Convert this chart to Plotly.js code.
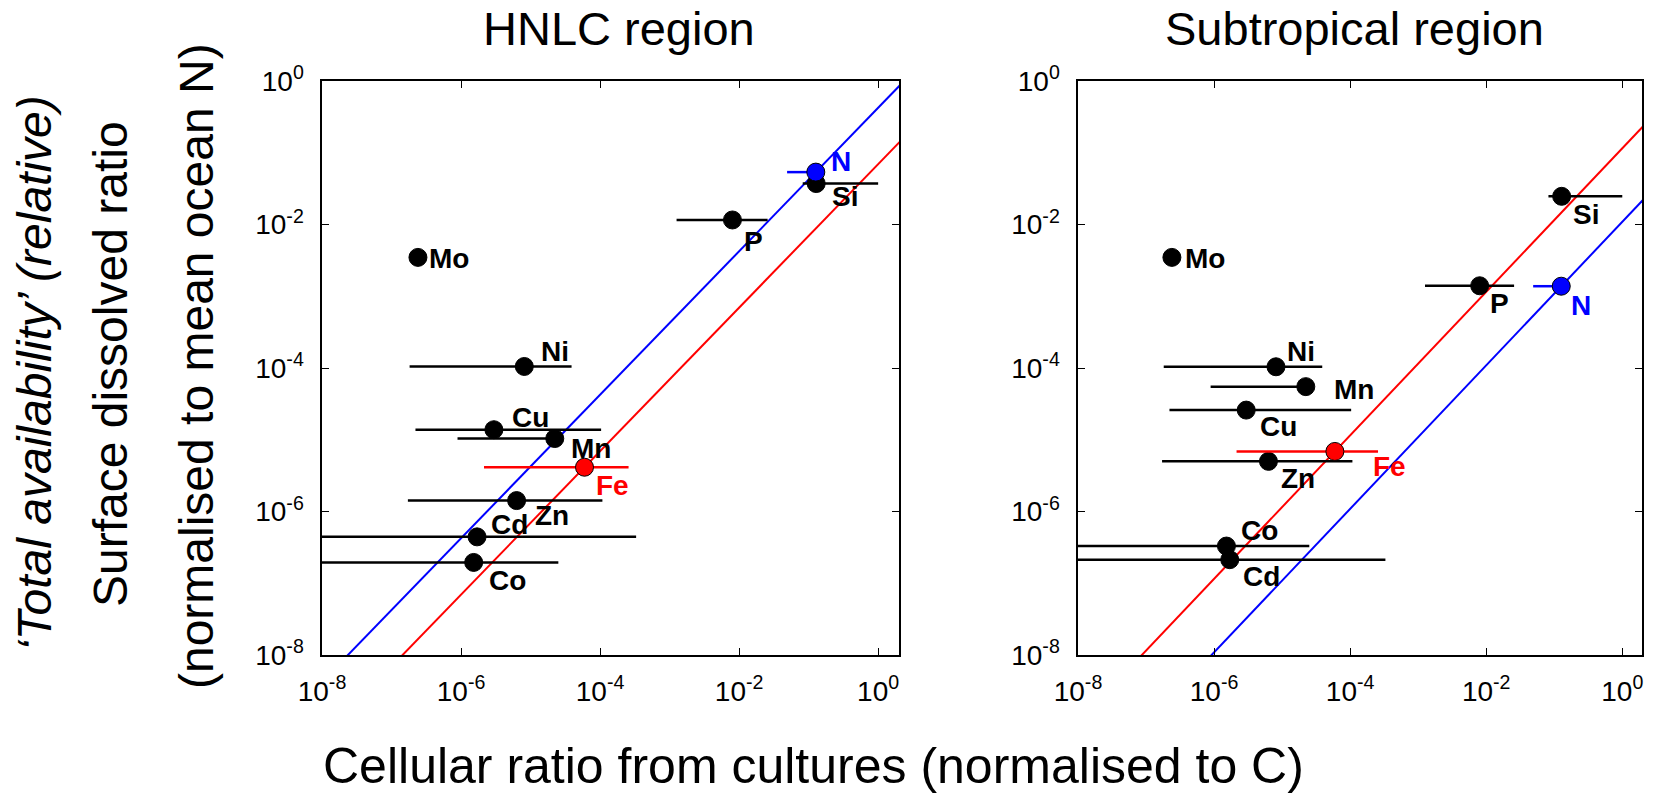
<!DOCTYPE html>
<html>
<head>
<meta charset="utf-8">
<script src="https://cdn.plot.ly/plotly-3.0.1.min.js"></script>
<style>
  html, body { margin: 0; padding: 0; background: #ffffff; }
  #chart { width: 1663px; height: 798px; }
</style>
</head>
<body>
<div id="chart"></div>
<script>
// ---------------- data ----------------
const elements = ['N', 'Si', 'P', 'Mo', 'Ni', 'Cu', 'Mn', 'Fe', 'Zn', 'Cd', 'Co'];
// cellular ratio from cultures (normalised to C) - shared by both panels
const cellRatio = [0.1268, 0.1285, 0.00802, 2.40e-7, 8.13e-6, 2.97e-6, 2.23e-5, 5.97e-5, 6.3e-6, 1.70e-6, 1.52e-6];
// range of cellular ratios (low / high ends of horizontal bars)
const cellLow  = [0.049, 0.0822, 0.00126, null, 1.82e-7, 2.21e-7, 8.9e-7, 2.14e-6, 1.72e-7, 1e-9, 1e-9];
const cellHigh = [0.1268, 1.0, 0.0257, null, 3.89e-5, 1.035e-4, 2.5e-5, 2.57e-4, 1.08e-4, 3.3e-4, 2.51e-5];
// surface dissolved ratio (normalised to mean ocean N)
const hnlcDissolved  = [0.0537, 0.0372, 0.01156, 0.00348, 1.05e-4, 1.38e-5, 1.04e-5, 4.14e-6, 1.42e-6, 4.43e-7, 1.95e-7];
const subtropDissolved = [1.38e-3, 0.0247, 1.40e-3, 3.48e-3, 1.04e-4, 2.59e-5, 5.5e-5, 6.87e-6, 5.0e-6, 2.13e-7, 3.3e-7];
const panelTitles = ['HNLC region', 'Subtropical region'];
const tickVals = [1e-8, 1e-6, 1e-4, 1e-2, 1];
const tickText = ['10<sup>-8</sup>', '10<sup>-6</sup>', '10<sup>-4</sup>', '10<sup>-2</sup>', '10<sup>0</sup>'];
const xTitle = 'Cellular ratio from cultures (normalised to C)';
const yTitleLines = ['<i>\u2018Total availability\u2019 (relative)</i>', 'Surface dissolved ratio', '(normalised to mean ocean N)'];

// ---------------- styles ----------------
const FONT = '"Liberation Sans", Arial, Helvetica, sans-serif';
const colorOf = { N: '#0000ff', Fe: '#ff0000' };
const drawOrder = [10, 9, 8, 7, 6, 5, 4, 3, 2, 1, 0];
// label offsets in px (dx right, dy down) per panel
const labelOffsetHNLC = {
  N: [25, -11], Si: [29, 13], P: [21, 22], Mo: [31, 1], Ni: [31, -15], Cu: [37, -12],
  Mn: [36, 10], Fe: [28, 18], Zn: [35, 15], Cd: [32, -12], Co: [34, 18]
};
const labelOffsetSub = {
  N: [20, 19], Si: [24, 18], P: [20, 18], Mo: [33, 1], Ni: [25, -15], Cu: [32, 16],
  Mn: [48, 3], Fe: [55, 15], Zn: [30, 17], Cd: [32, 17], Co: [33, -16]
};

const W = 1663, H = 798;
const panels = [
  { xa: 'x', ya: 'y', yvals: hnlcDissolved, offs: labelOffsetHNLC, px: [322, 899], xmax: 0.30, titleX: 619 },
  { xa: 'x2', ya: 'y2', yvals: subtropDissolved, offs: labelOffsetSub, px: [1078, 1642], xmax: 0.29, titleX: 1354 }
];

const traces = [];
const annotations = [];
const lineX = [1e-9, 10];

panels.forEach((p, pi) => {
  // 1:1 reference lines through Fe (red) and N (blue)
  [['Fe', '#ff0000'], ['N', '#0000ff']].forEach(([el, col]) => {
    const k = elements.indexOf(el);
    const ratio = p.yvals[k] / cellRatio[k];
    traces.push({
      type: 'scatter', mode: 'lines', xaxis: p.xa, yaxis: p.ya,
      x: lineX, y: lineX.map(v => v * ratio),
      line: { color: col, width: 2 }, hoverinfo: 'skip', showlegend: false
    });
  });
  drawOrder.forEach(i => {
    const el = elements[i];
    const col = colorOf[el] || '#000000';
    const t = {
      type: 'scatter', mode: 'markers', xaxis: p.xa, yaxis: p.ya,
      x: [cellRatio[i]], y: [p.yvals[i]], name: el, showlegend: false, hoverinfo: 'skip',
      marker: { size: 18, color: col, line: { color: '#000000', width: 1 } }
    };
    if (cellLow[i] !== null) {
      t.error_x = {
        type: 'data', symmetric: false,
        array: [cellHigh[i] - cellRatio[i]],
        arrayminus: [cellRatio[i] - cellLow[i]],
        color: col, thickness: 2.5, width: 0
      };
    }
    traces.push(t);
    const off = p.offs[el];
    annotations.push({
      xref: p.xa, yref: p.ya, x: Math.log10(cellRatio[i]), y: Math.log10(p.yvals[i]),
      text: '<b>' + el + '</b>', showarrow: false, xanchor: 'center', yanchor: 'middle',
      xshift: off[0], yshift: -off[1],
      font: { family: FONT, size: 28, color: col }
    });
  });
  annotations.push({
    xref: 'paper', yref: 'paper', x: p.titleX / W, y: 1 - 29 / H,
    text: panelTitles[pi], showarrow: false, xanchor: 'center', yanchor: 'middle',
    font: { family: FONT, size: 47, color: '#000000' }
  });
});

annotations.push({
  xref: 'paper', yref: 'paper', x: 813 / W, y: 32 / H, text: xTitle, showarrow: false,
  xanchor: 'center', yanchor: 'middle', font: { family: FONT, size: 50, color: '#000000' }
});
const yTitlePos = [[34, 373], [110, 364], [196, 366]];
yTitleLines.forEach((txt, j) => {
  annotations.push({
    xref: 'paper', yref: 'paper', x: yTitlePos[j][0] / W, y: 1 - yTitlePos[j][1] / H,
    text: txt, textangle: -90, showarrow: false, xanchor: 'center', yanchor: 'middle',
    font: { family: FONT, size: 48, color: '#000000' }
  });
});

function axisStyle(extra) {
  return Object.assign({
    type: 'log', showline: true, linecolor: '#000000', linewidth: 1.6, mirror: 'ticks',
    ticks: 'inside', ticklen: 7, tickwidth: 1, tickcolor: '#000000',
    tickmode: 'array', tickvals: tickVals, ticktext: tickText,
    tickfont: { family: FONT, size: 28, color: '#000000' },
    showgrid: false, zeroline: false, fixedrange: true
  }, extra);
}

const yDom = [143 / H, 717 / H];
const layout = {
  width: W, height: H,
  margin: { l: 0, r: 0, t: 0, b: 0 },
  paper_bgcolor: '#ffffff', plot_bgcolor: '#ffffff',
  showlegend: false,
  xaxis: axisStyle({ domain: [panels[0].px[0] / W, panels[0].px[1] / W], range: [-8, panels[0].xmax], anchor: 'y', ticklabelstandoff: 11 }),
  yaxis: axisStyle({ domain: yDom, range: [-8, 0], anchor: 'x', ticklabelstandoff: 11 }),
  xaxis2: axisStyle({ domain: [panels[1].px[0] / W, panels[1].px[1] / W], range: [-8, panels[1].xmax], anchor: 'y2', ticklabelstandoff: 11 }),
  yaxis2: axisStyle({ domain: yDom, range: [-8, 0], anchor: 'x2', ticklabelstandoff: 11 }),
  annotations: annotations
};

Plotly.newPlot('chart', traces, layout, { displayModeBar: false, staticPlot: true });
</script>
</body>
</html>
